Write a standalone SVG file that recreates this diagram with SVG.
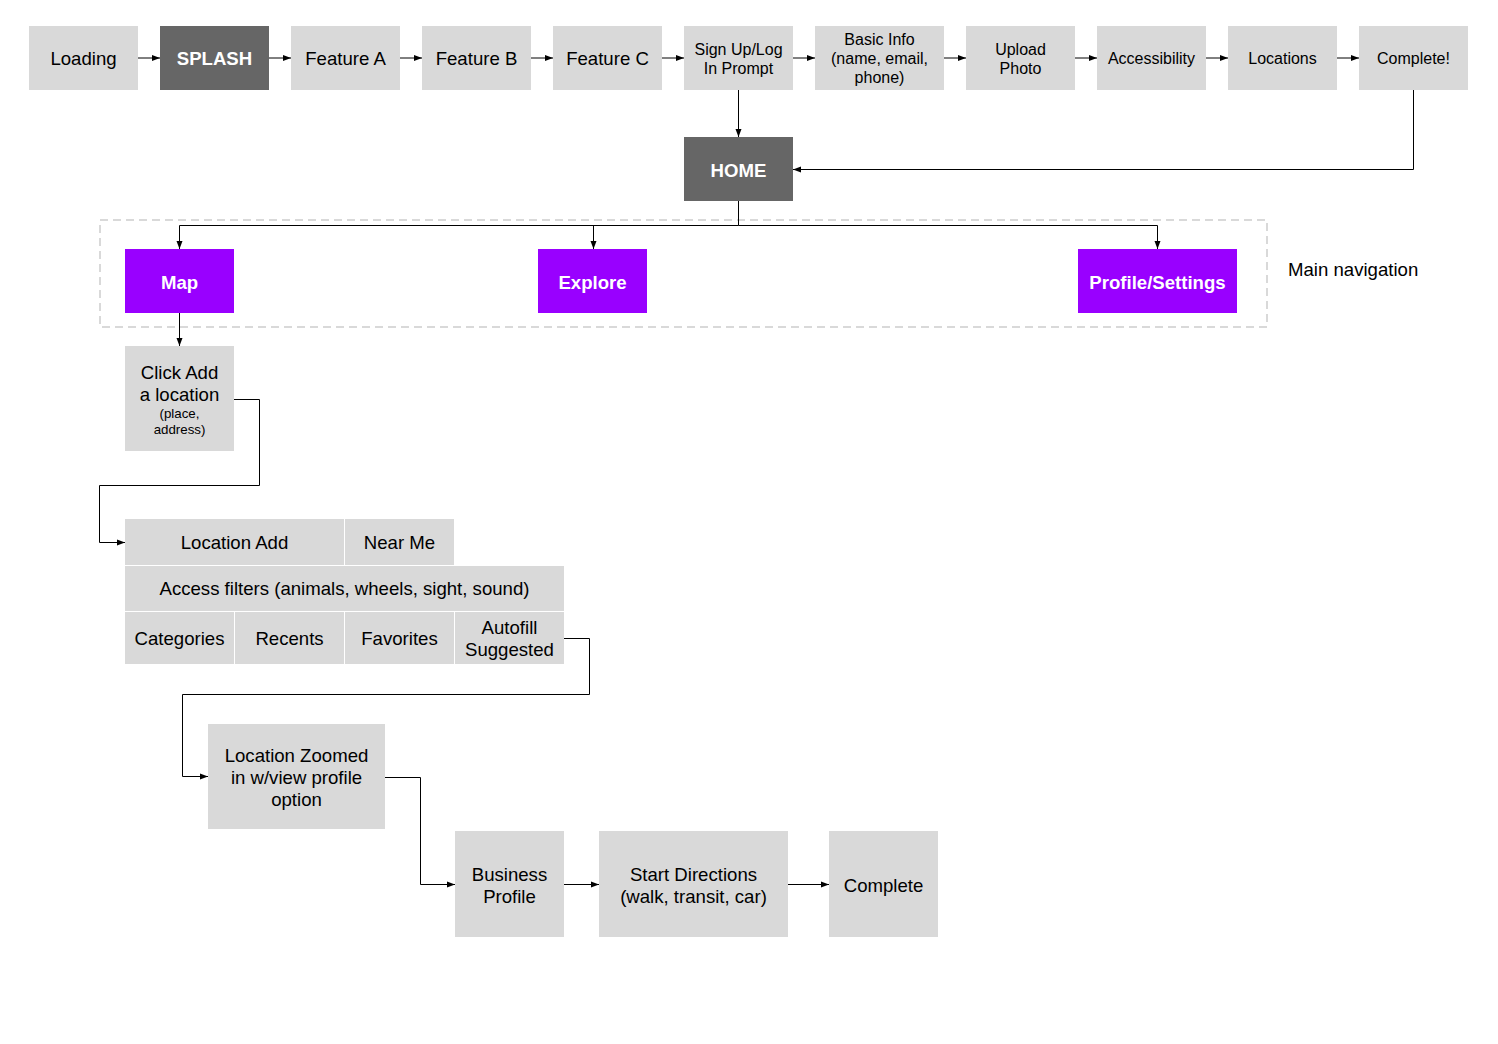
<svg xmlns="http://www.w3.org/2000/svg" width="1498" height="1044" viewBox="0 0 1498 1044">
<style>
.g{fill:#d9d9d9}
.d{fill:#666666}
.p{fill:#9900ff}
text{font-family:"Liberation Sans",Arial,sans-serif;text-anchor:middle;fill:#000}
.t18{font-size:18.6px}
.t15{font-size:16px}
.t13{font-size:13.3px}
.w{fill:#fff;font-weight:bold;font-size:18.6px}
.c{fill:none;stroke:#000;stroke-width:1}
</style>
<defs>
<marker id="ah" viewBox="0 0 8 8" refX="8" refY="4" markerWidth="8" markerHeight="8" markerUnits="userSpaceOnUse" orient="auto">
<path d="M0,1 L8,4 L0,7 Z" fill="#000"/>
</marker>
</defs>
<rect x="0" y="0" width="1498" height="1044" fill="#fff"/>

<rect x="100" y="220" width="1167" height="107" fill="none" stroke="#d9d9d9" stroke-width="2" stroke-dasharray="8,5"/>
<text x="1288" y="276" class="t18" style="text-anchor:start">Main navigation</text>

<g id="connectors">
<path class="c" d="M138,58 H160" marker-end="url(#ah)"/>
<path class="c" d="M269,58 H291" marker-end="url(#ah)"/>
<path class="c" d="M400,58 H422" marker-end="url(#ah)"/>
<path class="c" d="M531,58 H553" marker-end="url(#ah)"/>
<path class="c" d="M662,58 H684" marker-end="url(#ah)"/>
<path class="c" d="M793,58 H815" marker-end="url(#ah)"/>
<path class="c" d="M944,58 H966" marker-end="url(#ah)"/>
<path class="c" d="M1075,58 H1097" marker-end="url(#ah)"/>
<path class="c" d="M1206,58 H1228" marker-end="url(#ah)"/>
<path class="c" d="M1337,58 H1359" marker-end="url(#ah)"/>
<path class="c" d="M738.5,90 V137" marker-end="url(#ah)"/>
<path class="c" d="M1413.5,90 V169.5 H793" marker-end="url(#ah)"/>
<path class="c" d="M738.5,201 V225.5 H179.5 V249" marker-end="url(#ah)"/>
<path class="c" d="M593.5,225.5 V249" marker-end="url(#ah)"/>
<path class="c" d="M738.5,225.5 H1157.5 V249" marker-end="url(#ah)"/>
<path class="c" d="M179.5,313 V346" marker-end="url(#ah)"/>
<path class="c" d="M234,399.5 H259.5 V485.5 H99.5 V542.5 H125" marker-end="url(#ah)"/>
<path class="c" d="M564,638.5 H589.5 V694.5 H182.5 V776.5 H208" marker-end="url(#ah)"/>
<path class="c" d="M385,777.5 H420.5 V884.5 H455" marker-end="url(#ah)"/>
<path class="c" d="M564,884.5 H599" marker-end="url(#ah)"/>
<path class="c" d="M788,884.5 H829" marker-end="url(#ah)"/>
</g>

<g id="loading"><rect class="g" x="29" y="26" width="109" height="64"/><text class="t18" x="83.5" y="64.5">Loading</text></g>
<g id="splash"><rect class="d" x="160" y="26" width="109" height="64"/><text class="w" x="214.5" y="64.5">SPLASH</text></g>
<g id="featureA"><rect class="g" x="291" y="26" width="109" height="64"/><text class="t18" x="345.5" y="64.5">Feature A</text></g>
<g id="featureB"><rect class="g" x="422" y="26" width="109" height="64"/><text class="t18" x="476.5" y="64.5">Feature B</text></g>
<g id="featureC"><rect class="g" x="553" y="26" width="109" height="64"/><text class="t18" x="607.5" y="64.5">Feature C</text></g>
<g id="signup"><rect class="g" x="684" y="26" width="109" height="64"/><text class="t15" x="738.5" y="54.5">Sign Up/Log</text><text class="t15" x="738.5" y="73.5">In Prompt</text></g>
<g id="basicinfo"><rect class="g" x="815" y="26" width="129" height="64"/><text class="t15" x="879.5" y="44.5">Basic Info</text><text class="t15" x="879.5" y="63.5">(name, email,</text><text class="t15" x="879.5" y="82.5">phone)</text></g>
<g id="upload"><rect class="g" x="966" y="26" width="109" height="64"/><text class="t15" x="1020.5" y="54.5">Upload</text><text class="t15" x="1020.5" y="73.5">Photo</text></g>
<g id="accessibility"><rect class="g" x="1097" y="26" width="109" height="64"/><text class="t15" x="1151.5" y="64">Accessibility</text></g>
<g id="locations"><rect class="g" x="1228" y="26" width="109" height="64"/><text class="t15" x="1282.5" y="64">Locations</text></g>
<g id="completeTop"><rect class="g" x="1359" y="26" width="109" height="64"/><text class="t15" x="1413.5" y="64">Complete!</text></g>

<g id="home"><rect class="d" x="684" y="137" width="109" height="64"/><text class="w" x="738.5" y="176.5">HOME</text></g>
<g id="map"><rect class="p" x="125" y="249" width="109" height="64"/><text class="w" x="179.5" y="288.5">Map</text></g>
<g id="explore"><rect class="p" x="538" y="249" width="109" height="64"/><text class="w" x="592.5" y="288.5">Explore</text></g>
<g id="profile"><rect class="p" x="1078" y="249" width="159" height="64"/><text class="w" x="1157.5" y="288.5">Profile/Settings</text></g>

<g id="clickadd"><rect class="g" x="125" y="346" width="109" height="105"/><text class="t18" x="179.5" y="378.5">Click Add</text><text class="t18" x="179.5" y="400.5">a location</text><text class="t13" x="179.5" y="418">(place,</text><text class="t13" x="179.5" y="434">address)</text></g>

<g id="locationadd"><rect class="g" x="125" y="519" width="219" height="46"/><text class="t18" x="234.5" y="548.5">Location Add</text></g>
<g id="nearme"><rect class="g" x="345" y="519" width="109" height="46"/><text class="t18" x="399.5" y="548.5">Near Me</text></g>
<g id="accessfilters"><rect class="g" x="125" y="566" width="439" height="45"/><text class="t18" x="344.5" y="595">Access filters (animals, wheels, sight, sound)</text></g>
<g id="categories"><rect class="g" x="125" y="612" width="109" height="52"/><text class="t18" x="179.5" y="645">Categories</text></g>
<g id="recents"><rect class="g" x="235" y="612" width="109" height="52"/><text class="t18" x="289.5" y="645">Recents</text></g>
<g id="favorites"><rect class="g" x="345" y="612" width="109" height="52"/><text class="t18" x="399.5" y="645">Favorites</text></g>
<g id="autofill"><rect class="g" x="455" y="612" width="109" height="52"/><text class="t18" x="509.5" y="633.5">Autofill</text><text class="t18" x="509.5" y="655.5">Suggested</text></g>

<g id="zoomed"><rect class="g" x="208" y="724" width="177" height="105"/><text class="t18" x="296.5" y="761.5">Location Zoomed</text><text class="t18" x="296.5" y="783.5">in w/view profile</text><text class="t18" x="296.5" y="805.5">option</text></g>
<g id="business"><rect class="g" x="455" y="831" width="109" height="106"/><text class="t18" x="509.5" y="880.5">Business</text><text class="t18" x="509.5" y="902.5">Profile</text></g>
<g id="directions"><rect class="g" x="599" y="831" width="189" height="106"/><text class="t18" x="693.5" y="880.5">Start Directions</text><text class="t18" x="693.5" y="902.5">(walk, transit, car)</text></g>
<g id="complete"><rect class="g" x="829" y="831" width="109" height="106"/><text class="t18" x="883.5" y="891.5">Complete</text></g>
</svg>
